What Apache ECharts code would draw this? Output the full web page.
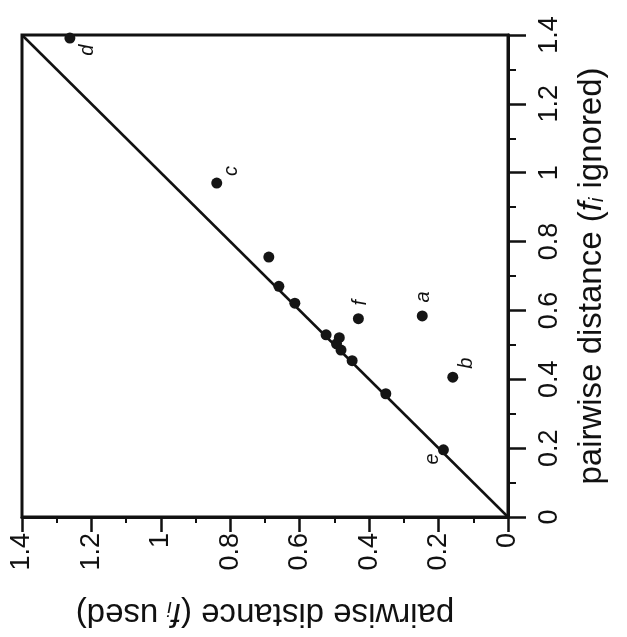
<!DOCTYPE html>
<html>
<head>
<meta charset="utf-8">
<script src="https://cdn.jsdelivr.net/npm/echarts@6/dist/echarts.min.js"></script>
<style>html,body{margin:0;padding:0;background:#fff}#c{width:627px;height:637px}</style>
</head>
<body>
<div id="c"></div>
<script>
// Data: [f_i used, f_i ignored]
const pointNames = ['d', 'c', '', '', '', '', '', '', '', '', 'f', 'a', '', 'b', 'e'];
const usedValues = [1.262, 0.839, 0.689, 0.660, 0.614, 0.524, 0.486, 0.494, 0.481, 0.449, 0.431, 0.247, 0.352, 0.159, 0.186];
const ignoredValues = [1.391, 0.970, 0.755, 0.670, 0.621, 0.529, 0.521, 0.503, 0.485, 0.454, 0.576, 0.584, 0.358, 0.406, 0.195];
const diagonalLine = [[0, 0], [1.4, 1.4]];
const tickLabels = ['0', '0.2', '0.4', '0.6', '0.8', '1', '1.2', '1.4'];
// label offsets (screen px: right, down) for the lettered points
const labelOffsets = {d: [18, 12], c: [15, -12], f: [2, -16], a: [1, -19], b: [14, -14], e: [-11, 9]};

const fmt = v => tickLabels[Math.round(v / 0.2)] || '';
const FONT = 'Liberation Sans, Arial, Helvetica, sans-serif';

const scatterData = usedValues.map((u, i) => {
  const n = pointNames[i];
  const item = {value: [u, ignoredValues[i]], name: n};
  if (n) {
    const o = labelOffsets[n];
    // label is rotated 90deg, so its offset is given in the rotated frame
    item.label = {show: true, formatter: n, offset: [-o[1], o[0]]};
  }
  return item;
});

const chart = echarts.init(document.getElementById('c'));
chart.setOption({
  animation: false,
  backgroundColor: '#fff',
  grid: {left: 22, right: 119, top: 35, bottom: 120, show: true, borderColor: '#111', borderWidth: 3, backgroundColor: 'transparent'},
  xAxis: {
    type: 'value', inverse: true, min: 0, max: 1.4, interval: 0.2, position: 'bottom',
    name: 'pairwise distance ({f|f}{s|i} used)',
    nameLocation: 'middle', nameRotate: 180, nameGap: 80,
    nameTextStyle: {fontSize: 33, color: '#111', fontFamily: FONT,
      rich: {f: {fontSize: 33, fontStyle: 'italic', fontFamily: FONT, color: '#111'},
             s: {fontSize: 20, fontStyle: 'italic', fontFamily: FONT, color: '#111', padding: [12, 0, 0, 0]}}},
    axisLine: {show: true, onZero: false, lineStyle: {color: '#111', width: 3}},
    axisTick: {show: true, inside: false, length: 15, lineStyle: {color: '#111', width: 2.5}},
    minorTick: {show: true, splitNumber: 2, length: 6, lineStyle: {color: '#111', width: 2}},
    splitLine: {show: false},
    axisLabel: {fontSize: 27, color: '#111', fontFamily: FONT, rotate: 90, margin: 16, align: 'right', verticalAlign: 'middle', formatter: fmt}
  },
  yAxis: {
    type: 'value', min: 0, max: 1.4, interval: 0.2, position: 'right',
    name: 'pairwise distance ({f|f}{s|i} ignored)',
    nameLocation: 'middle', nameRotate: 90, nameGap: 67,
    nameTextStyle: {fontSize: 33, color: '#111', fontFamily: FONT,
      rich: {f: {fontSize: 33, fontStyle: 'italic', fontFamily: FONT, color: '#111'},
             s: {fontSize: 20, fontStyle: 'italic', fontFamily: FONT, color: '#111', padding: [12, 0, 0, 0]}}},
    axisLine: {show: true, onZero: false, lineStyle: {color: '#111', width: 3}},
    axisTick: {show: true, inside: false, length: 18, lineStyle: {color: '#111', width: 2.5}},
    minorTick: {show: true, splitNumber: 2, length: 8, lineStyle: {color: '#111', width: 2}},
    splitLine: {show: false},
    axisLabel: {fontSize: 27, color: '#111', fontFamily: FONT, rotate: 90, margin: 28, align: 'center', verticalAlign: 'top', formatter: fmt}
  },
  series: [
    {
      type: 'line', data: diagonalLine, symbol: 'none', silent: true,
      lineStyle: {color: '#111', width: 2.5}, z: 2
    },
    {
      type: 'scatter', data: scatterData, symbol: 'circle', symbolSize: 11,
      itemStyle: {color: '#151515', opacity: 1}, z: 3,
      label: {show: false, position: 'inside', rotate: 90, fontSize: 20, fontStyle: 'italic', fontFamily: FONT, color: '#111', align: 'center', verticalAlign: 'middle'}
    }
  ]
});
</script>
</body>
</html>
